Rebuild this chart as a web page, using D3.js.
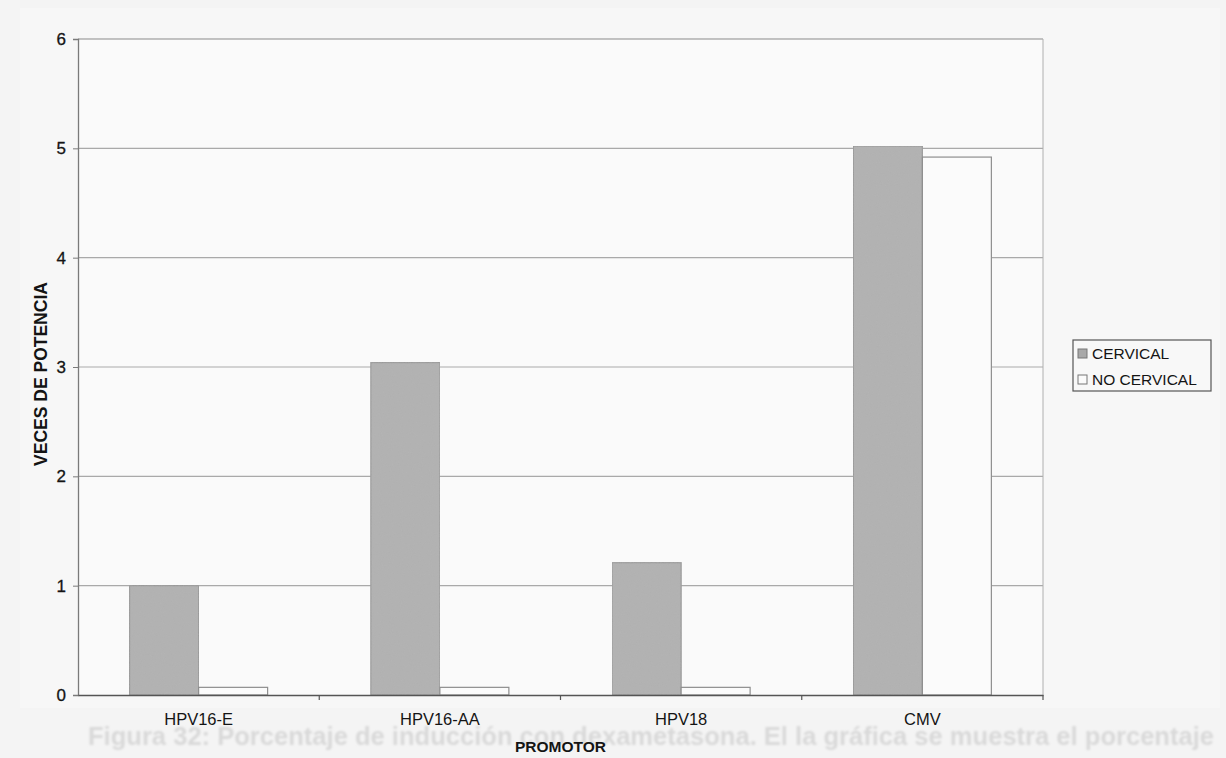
<!DOCTYPE html>
<html>
<head>
<meta charset="utf-8">
<script src="https://cdn.jsdelivr.net/npm/d3@7"></script>
<style>
  html, body { margin: 0; padding: 0; background: #f3f3f3; }
  svg { display: block; font-family: "Liberation Sans", Arial, sans-serif; }
</style>
</head>
<body>
<svg id="chart" width="1226" height="758"></svg>
<script>
// Promoter categories and fold-induction values per cell type
const categories = ["HPV16-E", "HPV16-AA", "HPV18", "CMV"];
const seriesNames = ["CERVICAL", "NO CERVICAL"];
const cervical = [1.0, 3.04, 1.21, 5.02];
const noCervical = [0.07, 0.07, 0.07, 4.92];
const yTicks = [0, 1, 2, 3, 4, 5, 6];
const caption = "Figura 32: Porcentaje de inducción con dexametasona. El la gráfica se muestra el porcentaje";

const svg = d3.select("#chart");
const W = 1226, H = 758;
const m = { left: 78, right: 1043, top: 39, bottom: 695 };
const ink = "#141414";

// paper background
svg.append("rect").attr("width", W).attr("height", H).attr("fill", "#f4f4f4");
svg.append("rect").attr("x", 20).attr("y", 8).attr("width", 1200).attr("height", 700).attr("fill", "#f7f7f7");

const defs = svg.append("defs");
defs.append("filter").attr("id", "soft").append("feGaussianBlur").attr("stdDeviation", 0.8);

// caption line of the page, faint below the chart
svg.append("text")
  .attr("x", 88).attr("y", 745)
  .attr("font-size", 25).attr("font-weight", "bold")
  .attr("fill", "#d9d9d9")
  .attr("filter", "url(#soft)")
  .attr("textLength", 1126).attr("lengthAdjust", "spacingAndGlyphs")
  .text(caption);

const x0 = d3.scaleBand().domain(categories).range([m.left, m.right]).paddingInner(0).paddingOuter(0);
const groupPad = 0.214; // fraction of each band left empty on either side
const x1 = d3.scaleBand().domain(seriesNames)
  .range([x0.bandwidth() * groupPad, x0.bandwidth() * (1 - groupPad)]);
const y = d3.scaleLinear().domain([0, 6]).range([m.bottom, m.top]);

// plot area
svg.append("rect")
  .attr("x", m.left).attr("y", m.top)
  .attr("width", m.right - m.left).attr("height", m.bottom - m.top)
  .attr("fill", "#fafafa");

// horizontal gridlines
svg.append("g").selectAll("line").data(yTicks.filter(d => d > 0)).join("line")
  .attr("x1", m.left).attr("x2", m.right)
  .attr("y1", d => y(d)).attr("y2", d => y(d))
  .attr("stroke", d => d === 6 ? "#8a8a8a" : "#a9a9a9")
  .attr("stroke-width", 1.2);

// right border of the plot area
svg.append("line")
  .attr("x1", m.right).attr("x2", m.right).attr("y1", m.top).attr("y2", m.bottom)
  .attr("stroke", "#b0b0b0").attr("stroke-width", 1);

// grain texture for the grey bars
const filt = defs.append("filter").attr("id", "grain").attr("x", 0).attr("y", 0).attr("width", 1).attr("height", 1);
filt.append("feTurbulence").attr("type", "fractalNoise").attr("baseFrequency", 0.9).attr("numOctaves", 2).attr("seed", 3).attr("result", "noise");
filt.append("feColorMatrix").attr("in", "noise").attr("type", "matrix")
  .attr("values", "0 0 0 0 0.5  0 0 0 0 0.5  0 0 0 0 0.5  0 0 0 0.35 0").attr("result", "tint");
filt.append("feComposite").attr("in", "tint").attr("in2", "SourceGraphic").attr("operator", "in").attr("result", "tex");
filt.append("feMerge").selectAll("feMergeNode").data(["SourceGraphic", "tex"]).join("feMergeNode").attr("in", d => d);

const rows = categories.map((c, i) => ({ cat: c, vals: [cervical[i], noCervical[i]] }));
const groups = svg.append("g").selectAll("g").data(rows).join("g")
  .attr("transform", d => `translate(${x0(d.cat)},0)`);

groups.selectAll("rect").data(d => d.vals.map((v, j) => ({ name: seriesNames[j], v }))).join("rect")
  .attr("x", d => x1(d.name))
  .attr("y", d => y(d.v))
  .attr("width", x1.bandwidth())
  .attr("height", d => y(0) - y(d.v))
  .attr("fill", d => d.name === "CERVICAL" ? "#b0b0b0" : "#fbfbfb")
  .attr("stroke", d => d.name === "CERVICAL" ? "#969696" : "#8e8e8e")
  .attr("stroke-width", 1.2)
  .attr("filter", d => d.name === "CERVICAL" ? "url(#grain)" : null);

// y axis
const yAxis = svg.append("g").attr("transform", `translate(${m.left},0)`)
  .call(d3.axisLeft(y).tickValues(yTicks).tickFormat(d3.format("d")).tickSize(5).tickPadding(7));
yAxis.select(".domain").attr("stroke", "#7a7a7a").attr("stroke-width", 1.3);
yAxis.selectAll(".tick line").attr("stroke", "#7a7a7a");
yAxis.selectAll("text").attr("font-size", 17).attr("fill", ink)
  .attr("stroke", ink).attr("stroke-width", 0.3)
  .attr("font-family", "'Liberation Sans', Arial, sans-serif");

// x axis
const xAxis = svg.append("g").attr("transform", `translate(0,${m.bottom})`)
  .call(d3.axisBottom(x0).tickSize(0).tickPadding(18));
xAxis.select(".domain").attr("stroke", "#555").attr("stroke-width", 1.5);
xAxis.selectAll("text").attr("font-size", 16.5).attr("fill", ink)
  .attr("font-family", "'Liberation Sans', Arial, sans-serif");
// category separator ticks
svg.append("g").selectAll("line").data(categories).join("line")
  .attr("x1", (d, i) => m.left + x0.step() * (i + 1))
  .attr("x2", (d, i) => m.left + x0.step() * (i + 1))
  .attr("y1", m.bottom).attr("y2", m.bottom + 5)
  .attr("stroke", "#555").attr("stroke-width", 1.2);

// axis titles
svg.append("text")
  .attr("transform", `translate(47,374) rotate(-90)`)
  .attr("text-anchor", "middle")
  .attr("font-size", 17.5).attr("font-weight", "bold").attr("fill", ink)
  .text("VECES DE POTENCIA");
svg.append("text")
  .attr("x", (m.left + m.right) / 2).attr("y", 752)
  .attr("text-anchor", "middle")
  .attr("font-size", 15.5).attr("font-weight", "bold").attr("fill", ink)
  .text("PROMOTOR");

// legend
const lg = svg.append("g").attr("transform", "translate(1073,340)");
lg.append("rect").attr("width", 138).attr("height", 51)
  .attr("fill", "#f8f8f8").attr("stroke", "#555").attr("stroke-width", 1.2);
const items = lg.selectAll("g").data(seriesNames).join("g")
  .attr("transform", (d, i) => `translate(5,${9 + i * 26})`);
items.append("rect").attr("width", 9).attr("height", 9).attr("y", 0)
  .attr("fill", d => d === "CERVICAL" ? "#a8a8a8" : "#fbfbfb")
  .attr("stroke", "#777").attr("stroke-width", 1);
items.append("text").attr("x", 14).attr("y", 9.5)
  .attr("font-size", 15.5).attr("fill", ink)
  .text(d => d);
</script>
</body>
</html>
